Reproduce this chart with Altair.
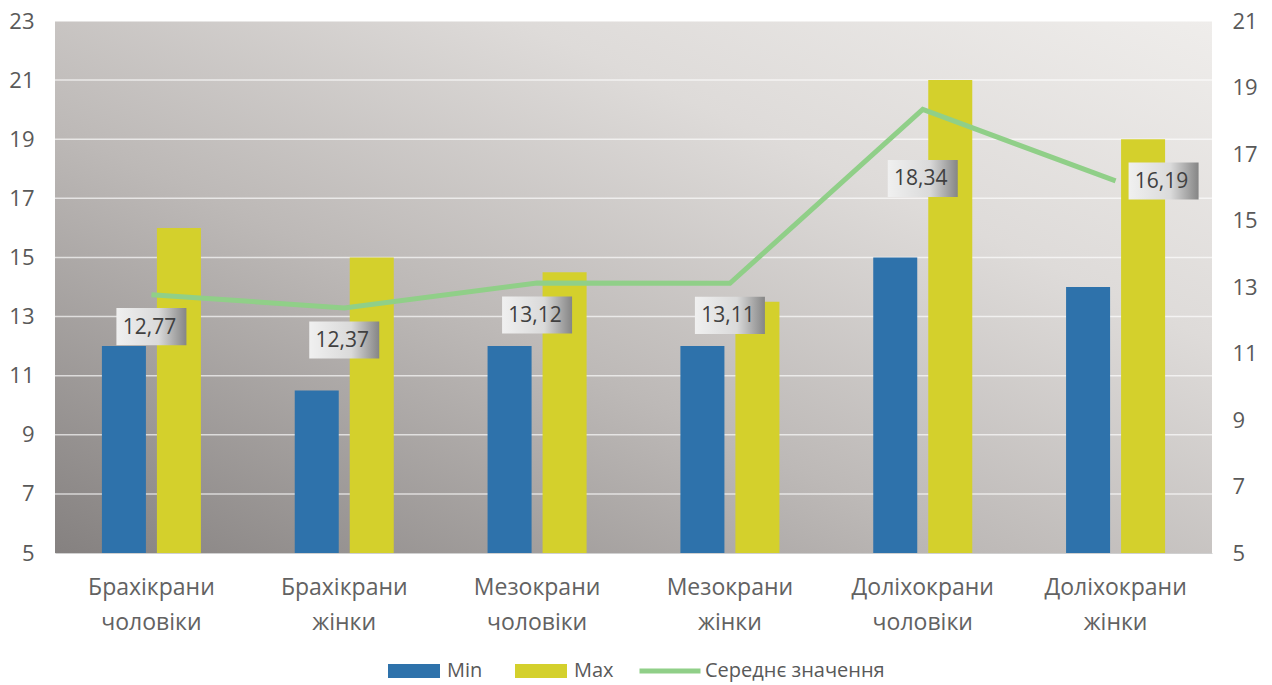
import altair as alt
import pandas as pd

categories = ["Брахікрани чоловіки", "Брахікрани жінки", "Мезокрани чоловіки",
              "Мезокрани жінки", "Доліхокрани чоловіки", "Доліхокрани жінки"]
min_values = [12, 10.5, 12, 12, 15, 14]
max_values = [16, 15, 14.5, 13.5, 21, 19]
mean_values = [12.77, 12.37, 13.12, 13.11, 18.34, 16.19]
series_names = ["Min", "Max"]
mean_name = "Середнє значення"
left_ticks = [5, 7, 9, 11, 13, 15, 17, 19, 21, 23]
right_ticks = [5, 7, 9, 11, 13, 15, 17, 19, 21]
grid_values = [7, 9, 11, 13, 15, 17, 19, 21, 23]
baseline_value = 5

W, H = 1157, 532
TXT = "#595959"

bars_df = pd.DataFrame({
    "cat": categories * 2,
    "series": [series_names[0]] * len(categories) + [series_names[1]] * len(categories),
    "value": min_values + max_values,
})
line_df = pd.DataFrame({
    "cat": categories,
    "mean": mean_values,
    "idx": list(range(len(categories))),
    "series": [mean_name] * len(categories),
})
grid_df = pd.DataFrame({"t": grid_values})

x_enc = alt.X("cat:N", sort=categories,
              scale=alt.Scale(paddingInner=0.4865, paddingOuter=0.24325),
              axis=alt.Axis(title=None, labelAngle=0, labelFontSize=23, labelColor="#626262",
                            labelPadding=23, labelLineHeight=35, ticks=False,
                            domain=True, domainColor="#d0d0d0",
                            labelExpr="split(datum.label, ' ')"))

left_scale = alt.Scale(domain=[5, 23], nice=False, zero=False)
right_scale = alt.Scale(domain=[5, 21], nice=False, zero=False)
left_axis = alt.Axis(title=None, values=left_ticks, orient="left", grid=False,
                     domain=False, ticks=False, labelFontSize=22, labelColor=TXT,
                     labelPadding=21)
right_axis = alt.Axis(title=None, values=right_ticks, orient="right", grid=False,
                      domain=False, ticks=False, labelFontSize=22, labelColor=TXT,
                      labelPadding=20)

bg_grad = alt.LinearGradient(
    gradient="linear",
    stops=[alt.GradientStop(color="#858180", offset=0),
           alt.GradientStop(color="#bdb9b7", offset=0.4),
           alt.GradientStop(color="#dedbd9", offset=0.7),
           alt.GradientStop(color="#efedeb", offset=1)],
    x1=0, y1=1, x2=1, y2=0)

background = alt.Chart(pd.DataFrame({"k": [0]})).mark_rect(fill=bg_grad, opacity=1).encode(
    x=alt.value(0), x2=alt.value(W), y=alt.value(0), y2=alt.value(H)
)

grid = alt.Chart(grid_df).mark_rule(color="#ffffff", opacity=0.65, strokeWidth=1.5).encode(
    y=alt.Y("t:Q", scale=left_scale, axis=left_axis)
)

bars = alt.Chart(bars_df).mark_bar(opacity=1).encode(
    x=x_enc,
    xOffset=alt.XOffset("series:N", sort=series_names, scale=alt.Scale(paddingInner=0.2)),
    y=alt.Y("value:Q", scale=left_scale, axis=left_axis),
    y2=alt.Y2Datum(baseline_value),
    color=alt.Color("series:N", sort=series_names,
                    scale=alt.Scale(domain=series_names, range=["#2e72ab", "#d4d02c"]),
                    legend=alt.Legend(orient="none", legendX=333, legendY=624,
                                      direction="horizontal", title=None,
                                      symbolType="M-1,-0.27H1V0.27H-1Z", symbolSize=2704,
                                      symbolStrokeWidth=0, symbolOpacity=1,
                                      labelFontSize=20, labelColor=TXT, labelOffset=7,
                                      columnPadding=32, padding=0, labelLimit=300)),
)

left_layer = alt.layer(background, grid, bars)

line = alt.Chart(line_df).mark_line(strokeWidth=5, opacity=1).encode(
    x=alt.X("cat:N", sort=categories),
    y=alt.Y("mean:Q", scale=right_scale, axis=right_axis),
    stroke=alt.Stroke("series:N",
                      scale=alt.Scale(domain=[mean_name], range=["#90cf88"]),
                      legend=alt.Legend(orient="none", legendX=582, legendY=617,
                                        title=None, symbolType="stroke", symbolSize=3721,
                                        symbolStrokeWidth=5, labelFontSize=20,
                                        labelColor=TXT, labelOffset=2, padding=0,
                                        labelLimit=400)),
)

box_grad = alt.LinearGradient(
    gradient="linear",
    stops=[alt.GradientStop(color="#f0f0f0", offset=0),
           alt.GradientStop(color="#dadada", offset=0.6),
           alt.GradientStop(color="#858585", offset=1)],
    x1=0, x2=1, y1=0, y2=0)


def label_layers(filter_expr, dx, dy):
    base = alt.Chart(line_df).transform_filter(filter_expr).transform_calculate(
        lbl="replace(format(datum.mean, '.2f'), '.', ',')"
    ).encode(
        x=alt.X("cat:N", sort=categories),
        y=alt.Y("mean:Q", scale=right_scale, axis=right_axis),
    )
    box = base.mark_point(shape="M-1,-0.53H1V0.53H-1Z", size=4900, filled=True,
                          fill=box_grad, opacity=1, strokeWidth=0, xOffset=dx, yOffset=dy)
    txt = base.mark_text(fontSize=21, color="#404040", xOffset=dx - 2, yOffset=dy + 1,
                         align="center", baseline="middle").encode(text="lbl:N")
    return [box, txt]


labels = (label_layers("datum.idx <= 3", 0, 32)
          + label_layers("datum.idx == 4", 0, 69)
          + label_layers("datum.idx == 5", 48, 0))

right_layer = alt.layer(line, *labels)

chart = alt.layer(left_layer, right_layer).resolve_scale(
    y="independent"
).properties(
    width=W, height=H,
    autosize=alt.AutoSizeParams(type="none"),
    padding={"left": 55, "top": 21, "right": 60, "bottom": 132},
).configure(
    font="Open Sans", background="#ffffff"
).configure_view(
    stroke=None
)

chart.save("out.html", embed_options={"renderer": "svg", "actions": False})
